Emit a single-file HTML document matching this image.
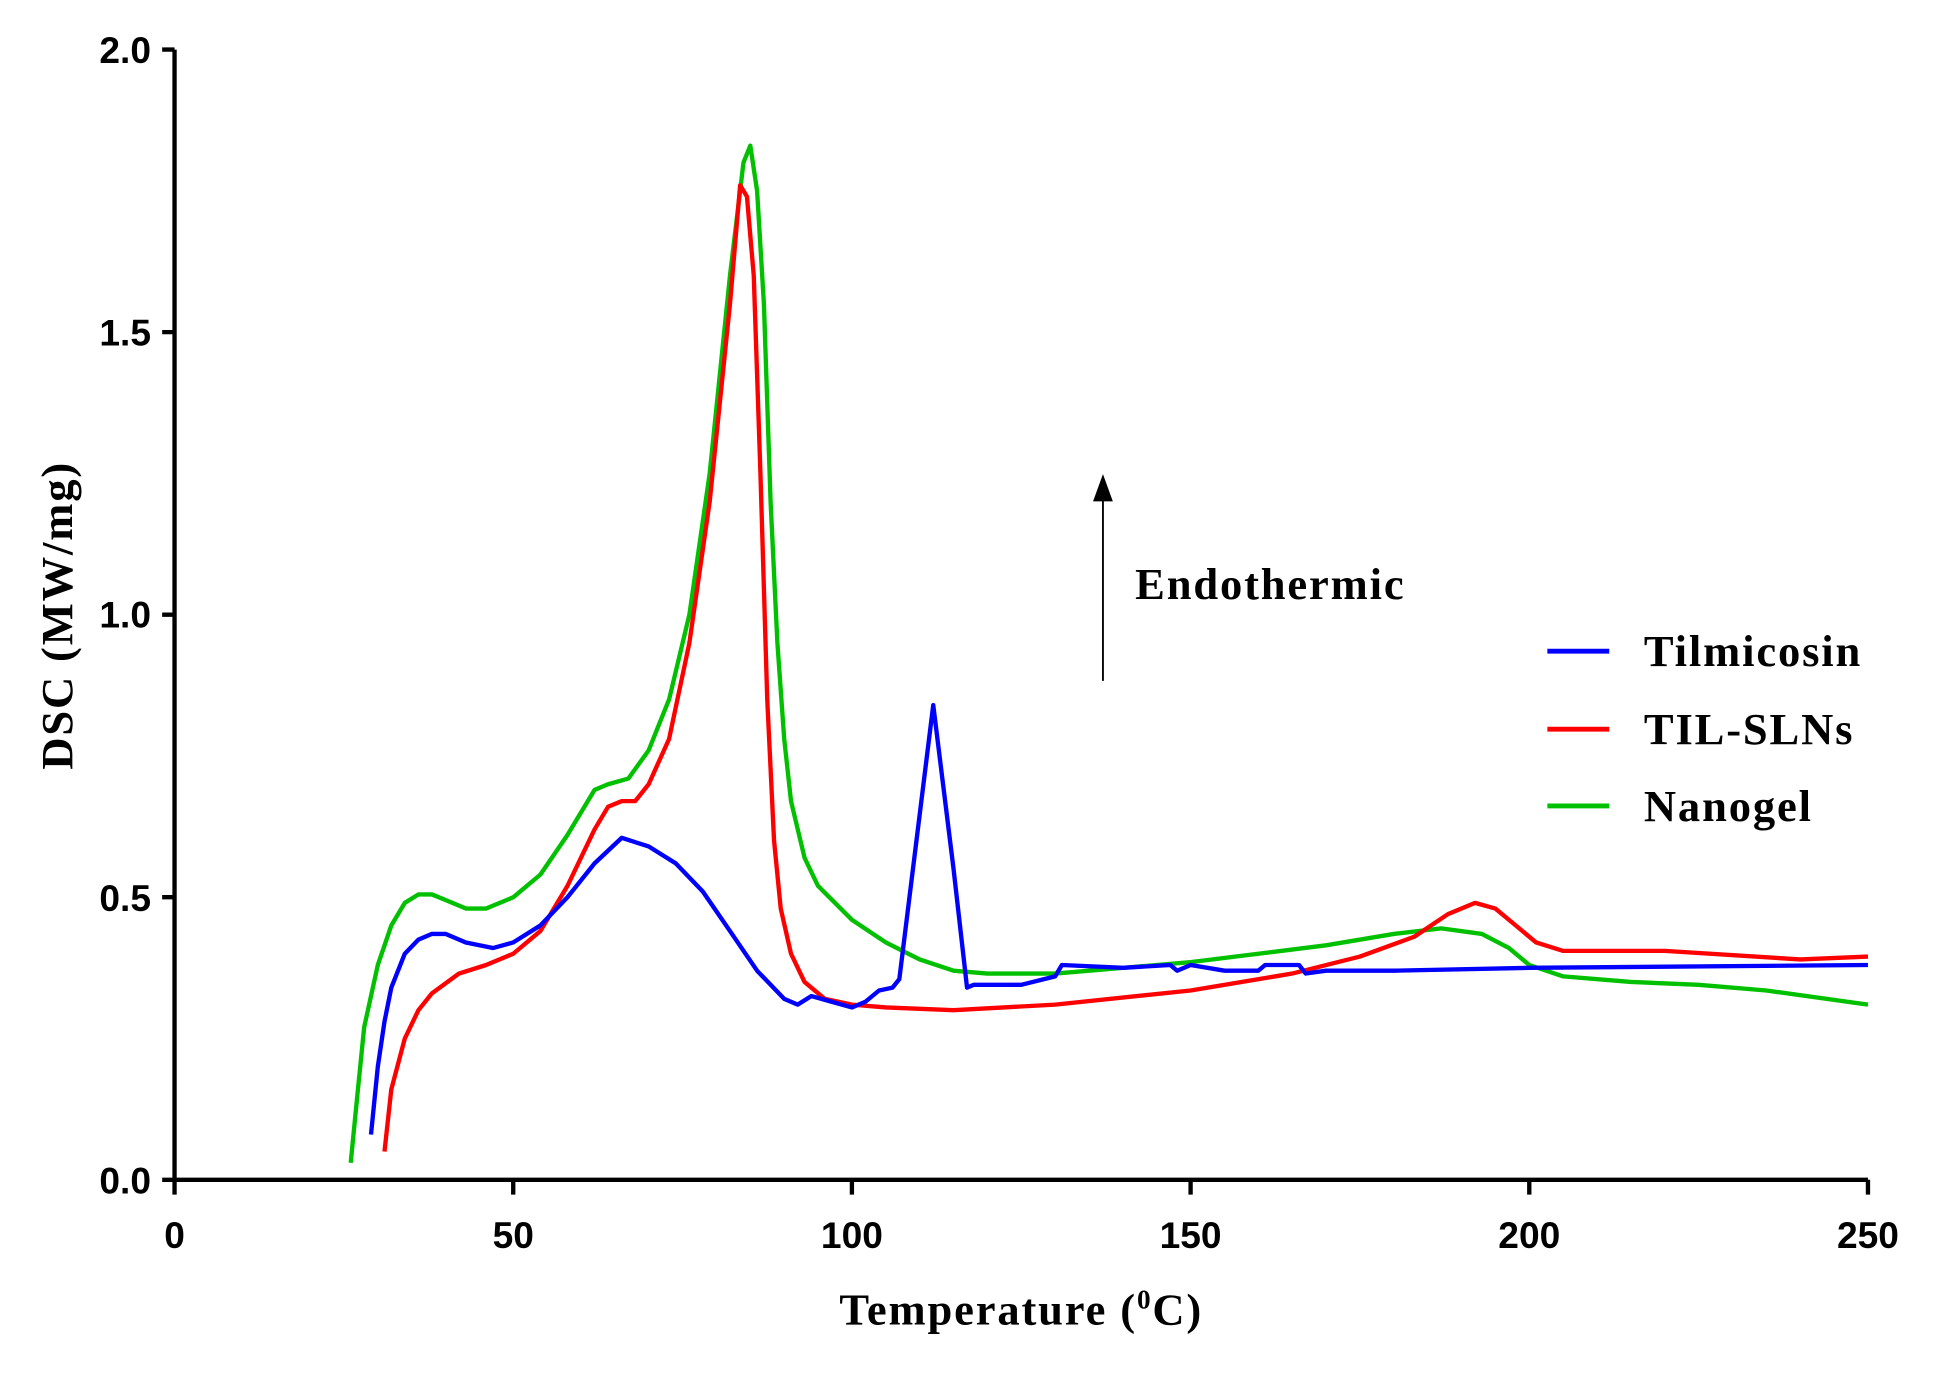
<!DOCTYPE html>
<html><head><meta charset="utf-8"><style>html,body{margin:0;padding:0;background:#fff}svg{display:block}</style></head>
<body>
<svg width="1941" height="1381" viewBox="0 0 1568 1115.5" xmlns="http://www.w3.org/2000/svg">
<rect width="1568" height="1116" fill="#fff"/>
<g stroke="#000" stroke-width="3.5" fill="none">
<path d="M141,40 V953 H1509"/>
<path d="M131,40 H141 M131,268.25 H141 M131,496.5 H141 M131,724.75 H141 M131,953 H141"/>
<path d="M141,953 V965 M414.6,953 V965 M688.2,953 V965 M961.8,953 V965 M1235.4,953 V965 M1509,953 V965"/>
</g>
<g font-family="Liberation Sans, sans-serif" font-weight="bold" font-size="30" fill="#000">
<g text-anchor="end"><text x="122" y="51">2.0</text><text x="122" y="279">1.5</text><text x="122" y="507">1.0</text><text x="122" y="736">0.5</text><text x="122" y="964">0.0</text></g>
<g text-anchor="middle"><text x="141" y="1008">0</text><text x="414.6" y="1008">50</text><text x="688.2" y="1008">100</text><text x="961.8" y="1008">150</text><text x="1235.4" y="1008">200</text><text x="1509" y="1008">250</text></g>
</g>
<g font-family="Liberation Serif, serif" font-weight="bold" fill="#000">
<text x="825" y="1070" font-size="36" letter-spacing="1.5" text-anchor="middle">Temperature (<tspan font-size="22" dy="-13">0</tspan><tspan dy="13">C)</tspan></text>
<text transform="translate(58,497) rotate(-90)" font-size="36" letter-spacing="1.5" text-anchor="middle">DSC  (MW/mg)</text>
<text x="917" y="484" font-size="36" letter-spacing="1.5">Endothermic</text>
<text x="1328" y="538" font-size="36" letter-spacing="1.5">Tilmicosin</text>
<text x="1328" y="601" font-size="36" letter-spacing="1.5">TIL-SLNs</text>
<text x="1328" y="663" font-size="36" letter-spacing="1.5">Nanogel</text>
</g>
<line x1="891" y1="550" x2="891" y2="400" stroke="#000" stroke-width="1.5"/>
<polygon points="891,383 883,405 899,405" fill="#000"/>
<line x1="1250" y1="526" x2="1300" y2="526" stroke="#0000ff" stroke-width="4"/>
<line x1="1250" y1="589" x2="1300" y2="589" stroke="#ff0000" stroke-width="4"/>
<line x1="1250" y1="651" x2="1300" y2="651" stroke="#00c000" stroke-width="4"/>
<g id="curves" fill="none" stroke-width="3.5" stroke-linejoin="round"></g>
<script>
const X=t=>141+t*5.472, Y=v=>953-v*456.5;
const S={
"#00c000":[[26,0.03],[27,0.15],[28,0.27],[30,0.38],[32,0.45],[34,0.49],[36,0.505],[38,0.505],[40,0.495],[43,0.48],[46,0.48],[50,0.5],[54,0.54],[58,0.61],[62,0.69],[64,0.70],[67,0.71],[70,0.76],[73,0.85],[76,1.0],[79,1.25],[82,1.6],[84,1.8],[85,1.83],[86,1.75],[87,1.55],[88,1.2],[89,0.95],[90,0.78],[91,0.67],[93,0.57],[95,0.52],[100,0.46],[105,0.42],[110,0.39],[115,0.37],[120,0.365],[130,0.365],[140,0.375],[150,0.385],[160,0.40],[170,0.415],[180,0.435],[187,0.445],[193,0.435],[197,0.41],[200,0.38],[205,0.36],[215,0.35],[225,0.345],[235,0.335],[250,0.31]],
"#ff0000":[[31,0.05],[32,0.16],[34,0.25],[36,0.30],[38,0.33],[42,0.365],[46,0.38],[50,0.40],[54,0.44],[58,0.52],[62,0.62],[64,0.66],[66,0.67],[68,0.67],[70,0.7],[73,0.78],[76,0.95],[79,1.2],[82,1.55],[83.5,1.76],[84.5,1.74],[85.5,1.6],[86.5,1.25],[87.5,0.85],[88.5,0.6],[89.5,0.48],[91,0.4],[93,0.35],[96,0.32],[100,0.31],[105,0.305],[115,0.3],[130,0.31],[150,0.335],[165,0.365],[175,0.395],[183,0.43],[188,0.47],[192,0.49],[195,0.48],[198,0.45],[201,0.42],[205,0.405],[220,0.405],[240,0.39],[250,0.395]],
"#0000ff":[[29,0.08],[30,0.2],[31,0.28],[32,0.34],[34,0.4],[36,0.425],[38,0.435],[40,0.435],[43,0.42],[47,0.41],[50,0.42],[54,0.45],[58,0.5],[62,0.56],[66,0.605],[70,0.59],[74,0.56],[78,0.51],[82,0.44],[86,0.37],[90,0.32],[92,0.31],[94,0.325],[97,0.315],[100,0.305],[102,0.315],[104,0.335],[106,0.34],[107,0.355],[112,0.84],[115,0.55],[117,0.34],[118,0.345],[125,0.345],[130,0.36],[131,0.38],[140,0.375],[147,0.38],[148,0.37],[150,0.38],[155,0.37],[160,0.37],[161,0.38],[166,0.38],[167,0.365],[170,0.37],[180,0.37],[200,0.375],[250,0.38]]};
const g=document.getElementById('curves');
for(const c in S){const p=document.createElementNS('http://www.w3.org/2000/svg','path');
p.setAttribute('d','M'+S[c].map(q=>X(q[0]).toFixed(1)+','+Y(q[1]).toFixed(1)).join(' L'));
p.setAttribute('stroke',c);g.appendChild(p);}
</script>
</svg>
</body></html>
